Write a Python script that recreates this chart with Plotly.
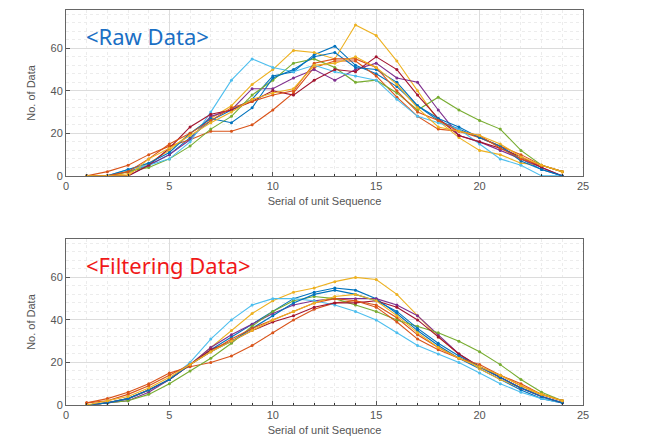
import plotly.graph_objects as go

x_seq = list(range(1, 25))
colors = ["#0072BD", "#D95319", "#EDB120", "#7E2F8E", "#77AC30",
          "#4DBEEE", "#A2142F", "#0072BD", "#D95319", "#EDB120"]

raw_s1 = [0, 0, 2, 5, 10, 18, 26, 31, 36, 47, 49, 57, 61, 52, 48, 42, 33, 26, 22, 18, 14, 8, 3, 0]
raw_s2 = [0, 2, 5, 10, 14, 17, 21, 21, 24, 31, 39, 51, 54, 54, 47, 37, 28, 22, 21, 18, 14, 10, 5, 2]
raw_s3 = [0, 0, 1, 6, 12, 20, 27, 33, 43, 50, 59, 58, 55, 71, 66, 54, 40, 26, 18, 12, 10, 6, 5, 2]
raw_s4 = [0, 0, 0, 5, 10, 17, 28, 31, 41, 41, 46, 50, 45, 50, 53, 46, 44, 31, 19, 16, 12, 8, 4, 0]
raw_s5 = [0, 0, 2, 4, 8, 14, 22, 28, 38, 45, 53, 55, 51, 44, 45, 39, 31, 37, 31, 26, 22, 12, 5, 2]
raw_s6 = [0, 0, 3, 5, 8, 16, 30, 45, 55, 51, 49, 52, 49, 47, 45, 36, 28, 25, 22, 15, 8, 5, 0, 0]
raw_s7 = [0, 0, 0, 5, 13, 23, 29, 31, 35, 40, 38, 45, 50, 49, 56, 50, 38, 27, 19, 16, 13, 9, 4, 0]
raw_s8 = [0, 0, 3, 6, 11, 20, 27, 25, 32, 46, 50, 56, 58, 51, 50, 44, 33, 27, 23, 18, 14, 7, 3, 0]
raw_s9 = [0, 0, 2, 8, 15, 20, 26, 32, 35, 38, 40, 53, 55, 55, 51, 40, 30, 26, 21, 19, 13, 8, 5, 2]
raw_s10 = [0, 0, 0, 8, 13, 19, 25, 30, 36, 39, 41, 52, 53, 56, 51, 43, 32, 23, 21, 19, 15, 9, 5, 2]

flt_s1 = [0, 1, 3, 7, 12, 19, 26, 32, 38, 44, 50, 53, 55, 54, 50, 43, 35, 28, 22, 17, 12, 7, 3, 1]
flt_s2 = [1, 3, 6, 10, 15, 18, 20, 23, 28, 34, 40, 45, 48, 49, 47, 41, 33, 27, 22, 18, 14, 9, 5, 2]
flt_s3 = [0, 1, 3, 7, 12, 19, 27, 35, 43, 49, 53, 55, 58, 60, 59, 52, 42, 32, 24, 17, 12, 8, 5, 2]
flt_s4 = [0, 1, 2, 6, 12, 19, 27, 33, 38, 43, 47, 49, 50, 50, 50, 47, 42, 33, 24, 18, 13, 8, 4, 1]
flt_s5 = [0, 1, 2, 5, 10, 16, 22, 29, 37, 44, 49, 51, 50, 47, 44, 40, 37, 34, 30, 25, 19, 12, 6, 2]
flt_s6 = [0, 1, 3, 7, 12, 20, 31, 40, 47, 50, 50, 49, 47, 44, 40, 34, 28, 24, 20, 15, 10, 6, 3, 1]
flt_s7 = [0, 1, 3, 7, 12, 19, 26, 30, 35, 39, 42, 46, 48, 48, 49, 46, 40, 32, 24, 18, 13, 8, 4, 1]
flt_s8 = [0, 1, 3, 7, 12, 19, 25, 30, 36, 42, 48, 52, 54, 52, 49, 44, 36, 29, 23, 18, 13, 8, 4, 1]
flt_s9 = [1, 2, 5, 9, 14, 19, 25, 31, 36, 40, 44, 48, 50, 49, 46, 39, 31, 26, 22, 19, 14, 10, 5, 2]
flt_s10 = [0, 2, 4, 8, 13, 19, 25, 30, 35, 40, 44, 48, 51, 52, 49, 42, 34, 27, 22, 18, 14, 9, 5, 2]

raw_series = [raw_s1, raw_s2, raw_s3, raw_s4, raw_s5, raw_s6, raw_s7, raw_s8, raw_s9, raw_s10]
flt_series = [flt_s1, flt_s2, flt_s3, flt_s4, flt_s5, flt_s6, flt_s7, flt_s8, flt_s9, flt_s10]

x_ticks = [0, 5, 10, 15, 20, 25]
y_ticks = [0, 20, 40, 60]

fig = go.Figure()
for i, s in enumerate(raw_series):
    fig.add_trace(go.Scatter(x=x_seq, y=s, mode="lines+markers", xaxis="x", yaxis="y",
                             line=dict(color=colors[i], width=1.1),
                             marker=dict(size=3, color=colors[i]), showlegend=False))
for i, s in enumerate(flt_series):
    fig.add_trace(go.Scatter(x=x_seq, y=s, mode="lines+markers", xaxis="x2", yaxis="y2",
                             line=dict(color=colors[i], width=1.1),
                             marker=dict(size=3, color=colors[i]), showlegend=False))

axis_font = dict(family="Liberation Sans, Arial, sans-serif", size=11, color="#555")
common_x = dict(range=[0, 25], tickvals=x_ticks, showgrid=True, gridcolor="#dcdcdc", gridwidth=1,
                showline=True, linecolor="#666", linewidth=1, mirror=True, ticks="inside", ticklen=4,
                tickcolor="#555", tickfont=axis_font, zeroline=False,
                minor=dict(dtick=1, showgrid=True, gridcolor="#ececec", griddash="dot",
                           ticks="inside", ticklen=2, tickcolor="#333"))
common_y = dict(range=[0, 78], tickvals=y_ticks, showgrid=True, gridcolor="#dcdcdc", gridwidth=1,
                showline=True, linecolor="#666", linewidth=1, mirror=True, ticks="inside", ticklen=4,
                tickcolor="#555", tickfont=axis_font, zeroline=False,
                minor=dict(dtick=4, showgrid=True, gridcolor="#ececec", griddash="dot"))

fig.update_layout(
    width=657, height=446,
    margin=dict(l=66, r=74, t=10, b=41),
    paper_bgcolor="white", plot_bgcolor="white",
    xaxis=dict(domain=[0, 1], anchor="y",
               title=dict(text="Serial of unit Sequence", font=axis_font, standoff=6), **common_x),
    yaxis=dict(domain=[0.58, 1.0], anchor="x",
               title=dict(text="No. of Data", font=axis_font, standoff=12), **common_y),
    xaxis2=dict(domain=[0, 1], anchor="y2",
                title=dict(text="Serial of unit Sequence", font=axis_font, standoff=6), **common_x),
    yaxis2=dict(domain=[0, 0.42], anchor="x2",
                title=dict(text="No. of Data", font=axis_font, standoff=12), **common_y),
    annotations=[
        dict(text="&lt;Raw Data&gt;", x=0.85, y=66, xref="x", yref="y", xanchor="left", yanchor="middle",
             showarrow=False, font=dict(family="Noto Sans, sans-serif", size=22, color="#1a6fc4")),
        dict(text="&lt;Filtering Data&gt;", x=0.85, y=66, xref="x2", yref="y2", xanchor="left", yanchor="middle",
             showarrow=False, font=dict(family="Noto Sans, sans-serif", size=22, color="#f01818")),
    ],
)

fig.write_html("out.html")
